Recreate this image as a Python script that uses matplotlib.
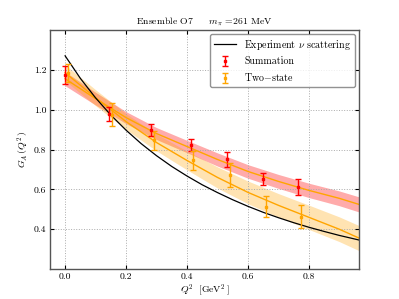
import matplotlib
matplotlib.use("Agg")
import matplotlib.pyplot as plt
import numpy as np

plt.rcParams['font.family'] = ['cmr10', 'DejaVu Serif']
plt.rcParams['mathtext.fontset'] = 'cm'
plt.rcParams['axes.formatter.use_mathtext'] = True
plt.rcParams['font.size'] = 7

# experiment (dipole) curve
q_exp = [0.0, 0.05, 0.1, 0.15, 0.2, 0.25, 0.3, 0.35, 0.4, 0.45, 0.5,
         0.55, 0.6, 0.65, 0.7, 0.75, 0.8, 0.85, 0.9, 0.97]
g_exp = [1.270, 1.157, 1.059, 0.973, 0.897, 0.829, 0.769, 0.715, 0.667, 0.623, 0.584,
         0.548, 0.515, 0.485, 0.458, 0.433, 0.410, 0.389, 0.369, 0.344]

# fit bands
q_fit = [0.0, 0.1, 0.2, 0.3, 0.4, 0.5, 0.6, 0.7, 0.8, 0.9, 0.97]
sum_fit = [1.155, 1.055, 0.960, 0.880, 0.815, 0.750, 0.690, 0.640, 0.595, 0.555, 0.522]
sum_err = [0.035, 0.032, 0.030, 0.030, 0.031, 0.033, 0.034, 0.035, 0.036, 0.037, 0.038]
two_fit = [1.185, 1.060, 0.940, 0.835, 0.745, 0.660, 0.585, 0.520, 0.460, 0.400, 0.352]
two_err = [0.040, 0.040, 0.040, 0.042, 0.047, 0.053, 0.057, 0.059, 0.061, 0.062, 0.063]

# data points
q_sum = [0.0, 0.145, 0.282, 0.412, 0.530, 0.650, 0.763]
g_sum = [1.175, 0.980, 0.896, 0.822, 0.750, 0.653, 0.610]
e_sum = [0.045, 0.035, 0.030, 0.030, 0.037, 0.030, 0.040]

q_two = [0.010, 0.155, 0.293, 0.420, 0.541, 0.659, 0.773]
g_two = [1.185, 0.975, 0.846, 0.746, 0.672, 0.513, 0.462]
e_two = [0.045, 0.057, 0.048, 0.048, 0.062, 0.052, 0.058]

fig = plt.figure(figsize=(3.99, 2.99), dpi=100)
ax = fig.add_axes([0.125, 0.1, 0.775, 0.8])

qf = np.array(q_fit)
sf, se = np.array(sum_fit), np.array(sum_err)
tf, te = np.array(two_fit), np.array(two_err)

ax.fill_between(qf, sf - se, sf + se, color='red', alpha=0.33, lw=0)
ax.fill_between(qf, tf - te, tf + te, color='orange', alpha=0.3, lw=0)
ax.plot(qf, sf, color='orange', lw=1)
ax.plot(qf, tf, color='orange', lw=1)

ax.plot(q_exp, g_exp, color='black', lw=0.9, label=r'Experiment $\nu$ scattering')
ax.errorbar(q_sum, g_sum, yerr=e_sum, fmt='s', color='red', ms=2,
            capsize=2.2, elinewidth=1, capthick=1, label='Summation')
ax.errorbar(q_two, g_two, yerr=e_two, fmt='s', color='orange', ms=2,
            capsize=2.2, elinewidth=1, capthick=1, label=r'Two$-$state')

ax.set_xlim(-0.05, 0.965)
ax.set_ylim(0.2, 1.4)
ax.set_xticks([0.0, 0.2, 0.4, 0.6, 0.8])
ax.set_yticks([0.4, 0.6, 0.8, 1.0, 1.2])
ax.xaxis.set_major_formatter(matplotlib.ticker.FormatStrFormatter('%.1f'))
ax.yaxis.set_major_formatter(matplotlib.ticker.FormatStrFormatter('%.1f'))
ax.grid(True, color='#aaaaaa', linestyle=':', lw=0.7)
ax.tick_params(direction='in', top=True, right=True, length=3, pad=2.5)
for s in ax.spines.values():
    s.set_color('#555555')
    s.set_linewidth(1.0)

ax.set_xlabel(r'$Q^2\ \ [\mathrm{GeV}^2\,]$', labelpad=1)
ax.set_ylabel(r'$G_A\,(Q^2\,)$', labelpad=2)
ax.set_title(r'Ensemble O7     $m_\pi$ =261 MeV', fontsize=7, pad=4)

leg = ax.legend(loc='upper right', fancybox=True, numpoints=1, handlelength=2.2,
                borderaxespad=0.4, fontsize=7.2)
leg.get_frame().set_edgecolor('#777777')

fig.savefig('out.png', dpi=100)
